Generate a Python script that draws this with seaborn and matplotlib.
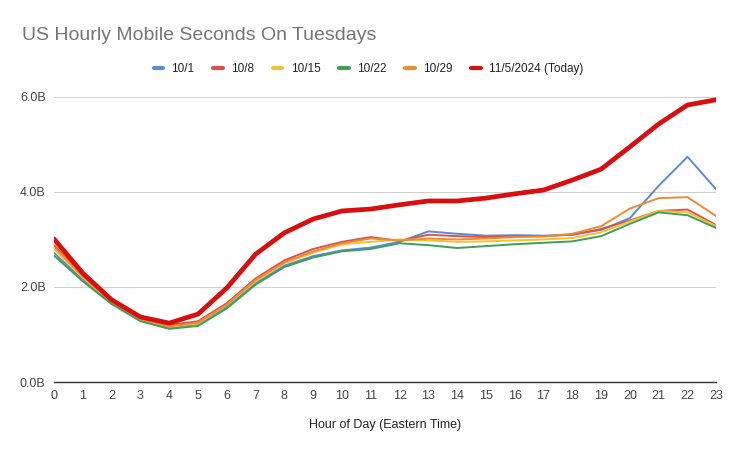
import pandas as pd
import numpy as np
import seaborn as sns
import matplotlib.pyplot as plt

# ---------------------------------------------------------------------------
# data (billions of seconds)
# ---------------------------------------------------------------------------
hours = list(range(24))

oct_1 = [2.72, 2.15, 1.66, 1.30, 1.15, 1.22, 1.58, 2.08, 2.45, 2.65, 2.77, 2.83,
         2.95, 3.17, 3.12, 3.08, 3.09, 3.08, 3.10, 3.20, 3.45, 4.13, 4.74, 4.05]
oct_8 = [2.88, 2.25, 1.72, 1.35, 1.20, 1.28, 1.66, 2.18, 2.56, 2.80, 2.95, 3.05,
         2.97, 3.10, 3.07, 3.05, 3.07, 3.07, 3.10, 3.22, 3.40, 3.60, 3.63, 3.30]
oct_15 = [2.80, 2.20, 1.68, 1.32, 1.16, 1.23, 1.62, 2.12, 2.50, 2.72, 2.90, 2.95,
          3.00, 2.98, 2.95, 2.96, 2.98, 3.00, 3.03, 3.15, 3.38, 3.60, 3.57, 3.28]
oct_22 = [2.66, 2.12, 1.64, 1.28, 1.12, 1.18, 1.55, 2.05, 2.42, 2.62, 2.75, 2.80,
          2.92, 2.88, 2.82, 2.86, 2.90, 2.93, 2.96, 3.07, 3.33, 3.57, 3.51, 3.24]
oct_29 = [2.85, 2.22, 1.70, 1.33, 1.17, 1.25, 1.63, 2.15, 2.52, 2.75, 2.92, 3.02,
          2.98, 3.02, 3.00, 3.02, 3.05, 3.06, 3.12, 3.28, 3.65, 3.87, 3.89, 3.49]
today = [3.01, 2.29, 1.73, 1.37, 1.24, 1.43, 1.98, 2.69, 3.14, 3.43, 3.60, 3.64,
         3.73, 3.81, 3.81, 3.87, 3.96, 4.04, 4.25, 4.48, 4.95, 5.43, 5.83, 5.94]

series_names = ['10/1', '10/8', '10/15', '10/22', '10/29', '11/5/2024 (Today)']
series_values = [oct_1, oct_8, oct_15, oct_22, oct_29, today]
y_ticks = [0, 2, 4, 6]
y_tick_labels = ['0.0B', '2.0B', '4.0B', '6.0B']

colors = ['#5a8ad8', '#d9534a', '#f2c12e', '#3f9e5a', '#ea8c34', '#d90f0f']
widths = [1.4, 1.4, 1.4, 1.4, 1.4, 3.4]

df = pd.DataFrame({
    'hour': hours * len(series_names),
    'value': np.concatenate(series_values),
    'series': np.repeat(series_names, len(hours)),
})

# ---------------------------------------------------------------------------
# plot
# ---------------------------------------------------------------------------
sns.set_style('white')
plt.rcParams['font.family'] = ['Liberation Sans', 'DejaVu Sans']

fig = plt.figure(figsize=(7.4, 4.57), dpi=100)
ax = fig.add_axes([0.073, 0.164, 0.895, 0.624])

sns.lineplot(data=df, x='hour', y='value', hue='series', hue_order=series_names,
             palette=colors, size='series', sizes=dict(zip(series_names, widths)),
             size_order=series_names, ax=ax, legend=False, zorder=3)

ax.set_xlim(0, 23)
ax.set_ylim(0, 6)
ax.set_xticks(hours)
ax.set_yticks(y_ticks)
ax.set_yticklabels(y_tick_labels)
ax.tick_params(axis='both', length=0, labelsize=9, colors='#444444')
ax.tick_params(axis='y', pad=6)
ax.tick_params(axis='x', pad=6)
ax.grid(axis='y', color='#d0d0d0', linewidth=0.8)
ax.grid(axis='x', visible=False)
for s in ['top', 'right', 'left']:
    ax.spines[s].set_visible(False)
ax.spines['bottom'].set_color('#333333')
ax.spines['bottom'].set_linewidth(1.0)
ax.set_xlabel('Hour of Day (Eastern Time)', fontsize=9, color='#222222', labelpad=12)
ax.set_ylabel('')

fig.text(0.03, 0.923, 'US Hourly Mobile Seconds On Tuesdays', fontsize=14,
         color='#757575', va='center', ha='left')

handles = [plt.Line2D([0], [0], color=c, linewidth=3) for c in colors]
fig.legend(handles, series_names, loc='center', bbox_to_anchor=(0.498, 0.849),
           ncol=6, frameon=False, fontsize=8.5, handlelength=0.8,
           columnspacing=1.6, handletextpad=0.7, labelcolor='#222222')

fig.savefig('out.png', dpi=100)
